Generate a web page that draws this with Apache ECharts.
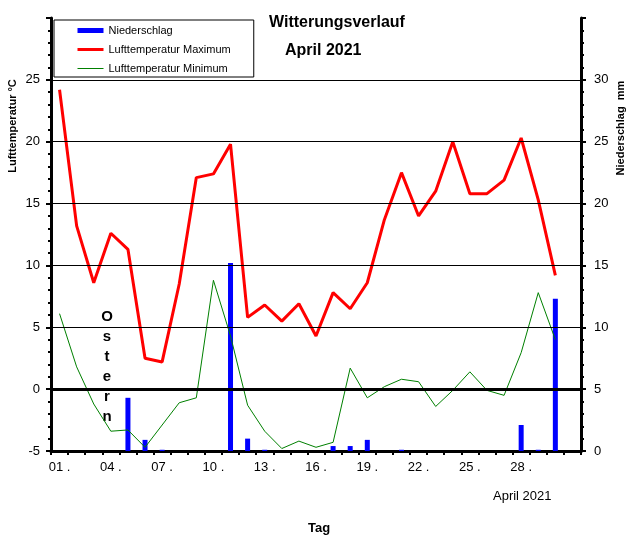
<!DOCTYPE html>
<html>
<head>
<meta charset="utf-8">
<script src="https://cdn.jsdelivr.net/npm/echarts@6/dist/echarts.min.js"></script>
<style>
  html, body { margin: 0; padding: 0; background: #fff; }
  #chart { width: 633px; height: 540px; }
</style>
</head>
<body>
<div id="chart"></div>
<script>
// Tage im April (31 Plaetze, der letzte bleibt leer)
var days = ['01 .','02 .','03 .','04 .','05 .','06 .','07 .','08 .','09 .','10 .',
            '11 .','12 .','13 .','14 .','15 .','16 .','17 .','18 .','19 .','20 .',
            '21 .','22 .','23 .','24 .','25 .','26 .','27 .','28 .','29 .','30 .','31 .']

// Niederschlag in mm
var niederschlag = [0, 0, 0, 0, 4.3, 0.9, 0.1, 0, 0, 0,
                    15.2, 1.0, 0.1, 0, 0, 0, 0.4, 0.4, 0.9, 0,
                    0.1, 0, 0, 0, 0, 0, 0, 2.1, 0.1, 12.3]

// Lufttemperatur Maximum in °C
var tempMax = [24.2, 13.2, 8.6, 12.6, 11.3, 2.5, 2.2, 8.5, 17.1, 17.4,
               19.8, 5.8, 6.8, 5.5, 6.9, 4.3, 7.8, 6.5, 8.6, 13.7,
               17.5, 14.0, 16.0, 20.0, 15.8, 15.8, 16.9, 20.3, 15.3, 9.2]

// Lufttemperatur Minimum in °C
var tempMin = [6.1, 1.8, -1.2, -3.4, -3.3, -4.7, -2.9, -1.1, -0.7, 8.8,
               4.3, -1.3, -3.4, -4.8, -4.2, -4.7, -4.3, 1.7, -0.7, 0.2,
               0.8, 0.6, -1.4, -0.1, 1.4, -0.1, -0.5, 2.95, 7.8, 4.0]

// Gitterlinien der Temperaturachse
var gridTemps = [5, 10, 15, 20, 25]

var FONT = '"Liberation Sans", Arial, sans-serif'

var chart = echarts.init(document.getElementById('chart'), null, { renderer: 'canvas' })

var gridLines = gridTemps.map(function (v) {
  return { yAxis: v, lineStyle: { color: '#000', width: 1, type: 'solid' } }
})
gridLines.push({ yAxis: 0, lineStyle: { color: '#000', width: 3, type: 'solid' } })

chart.setOption({
  animation: false,
  backgroundColor: '#fff',
  textStyle: { fontFamily: FONT },
  title: [
    { text: 'Witterungsverlauf', left: 269, top: 15, padding: 0,
      textStyle: { fontSize: 16, fontWeight: 'bold', color: '#000', fontFamily: FONT } },
    { text: 'April 2021', left: 285, top: 43, padding: 0,
      textStyle: { fontSize: 16, fontWeight: 'bold', color: '#000', fontFamily: FONT } },
    { text: 'Tag', left: 308, top: 522, padding: 0,
      textStyle: { fontSize: 13, fontWeight: 'bold', color: '#000', fontFamily: FONT } },
    { text: 'April 2021', left: 493, top: 490, padding: 0,
      textStyle: { fontSize: 13, fontWeight: 'normal', color: '#000', fontFamily: FONT } }
  ],
  legend: {
    data: [
      { name: 'Niederschlag', icon: 'rect' },
      { name: 'Lufttemperatur Maximum', itemStyle: { opacity: 0 }, lineStyle: { width: 3 } },
      { name: 'Lufttemperatur Minimum', itemStyle: { opacity: 0 }, lineStyle: { width: 1 } }
    ],
    orient: 'vertical',
    left: 54,
    top: 20,
    padding: [5, 23, 3, 22],
    itemGap: 8,
    itemWidth: 26,
    itemHeight: 5,
    borderColor: '#000',
    borderWidth: 1,
    backgroundColor: '#fff',
    selectedMode: false,
    textStyle: { fontSize: 11, color: '#000', fontFamily: FONT }
  },
  grid: { left: 51, right: 52, top: 18, bottom: 89 },
  xAxis: {
    type: 'category',
    data: days,
    boundaryGap: true,
    axisLine: { onZero: false, lineStyle: { color: '#000', width: 3 } },
    axisTick: { show: true, interval: 0, length: 4, lineStyle: { color: '#000', width: 2 } },
    axisLabel: {
      interval: function (i) { return i % 3 === 0 && i < 30 },
      color: '#000', fontSize: 13, margin: 10, fontFamily: FONT
    },
    splitLine: { show: false }
  },
  yAxis: [
    {
      type: 'value',
      min: -5, max: 30, interval: 5,
      axisLine: { show: true, lineStyle: { color: '#000', width: 3 } },
      axisTick: { show: true, length: 5, lineStyle: { color: '#000', width: 2 } },
      minorTick: { show: true, splitNumber: 5, length: 3, lineStyle: { color: '#000', width: 2 } },
      axisLabel: {
        color: '#000', fontSize: 13, margin: 11, fontFamily: FONT,
        formatter: function (v) { return v > 25 ? '' : v }
      },
      splitLine: { show: false }
    },
    {
      type: 'value',
      position: 'right',
      min: 0, max: 35, interval: 5,
      axisLine: { show: true, lineStyle: { color: '#000', width: 3 } },
      axisTick: { show: true, length: 5, lineStyle: { color: '#000', width: 2 } },
      minorTick: { show: true, splitNumber: 5, length: 3, lineStyle: { color: '#000', width: 2 } },
      axisLabel: {
        color: '#000', fontSize: 13, margin: 13, fontFamily: FONT,
        formatter: function (v) { return v > 30 ? '' : v }
      },
      splitLine: { show: false }
    }
  ],
  graphic: [
    { type: 'text', x: 13, y: 126, rotation: Math.PI / 2,
      style: { text: 'Lufttemperatur °C', font: 'bold 11px ' + FONT, fill: '#000',
               textAlign: 'center', textVerticalAlign: 'middle' } },
    { type: 'text', x: 621, y: 128, rotation: Math.PI / 2,
      style: { text: 'Niederschlag  mm', font: 'bold 11px ' + FONT, fill: '#000',
               textAlign: 'center', textVerticalAlign: 'middle' } },
    { type: 'text', x: 107, y: 307,
      style: { text: 'O\ns\nt\ne\nr\nn', font: 'bold 15px ' + FONT, fill: '#000',
               textAlign: 'center', lineHeight: 20 } }
  ],
  series: [
    {
      name: 'gitter',
      type: 'line',
      data: [],
      yAxisIndex: 0,
      z: 1,
      silent: true,
      markLine: {
        silent: true,
        symbol: ['none', 'none'],
        label: { show: false },
        animation: false,
        data: gridLines
      }
    },
    {
      name: 'Niederschlag',
      type: 'bar',
      data: niederschlag,
      yAxisIndex: 1,
      barWidth: 5,
      z: 3,
      itemStyle: { color: '#0000ff' }
    },
    {
      name: 'Lufttemperatur Maximum',
      type: 'line',
      data: tempMax,
      yAxisIndex: 0,
      symbol: 'none',
      z: 4,
      itemStyle: { color: '#ff0000' },
      lineStyle: { color: '#ff0000', width: 3 }
    },
    {
      name: 'Lufttemperatur Minimum',
      type: 'line',
      data: tempMin,
      yAxisIndex: 0,
      symbol: 'none',
      z: 4,
      itemStyle: { color: '#008000' },
      lineStyle: { color: '#008000', width: 1 }
    }
  ]
})

window.addEventListener('resize', function () {
  chart.resize()
})
</script>
</body>
</html>
